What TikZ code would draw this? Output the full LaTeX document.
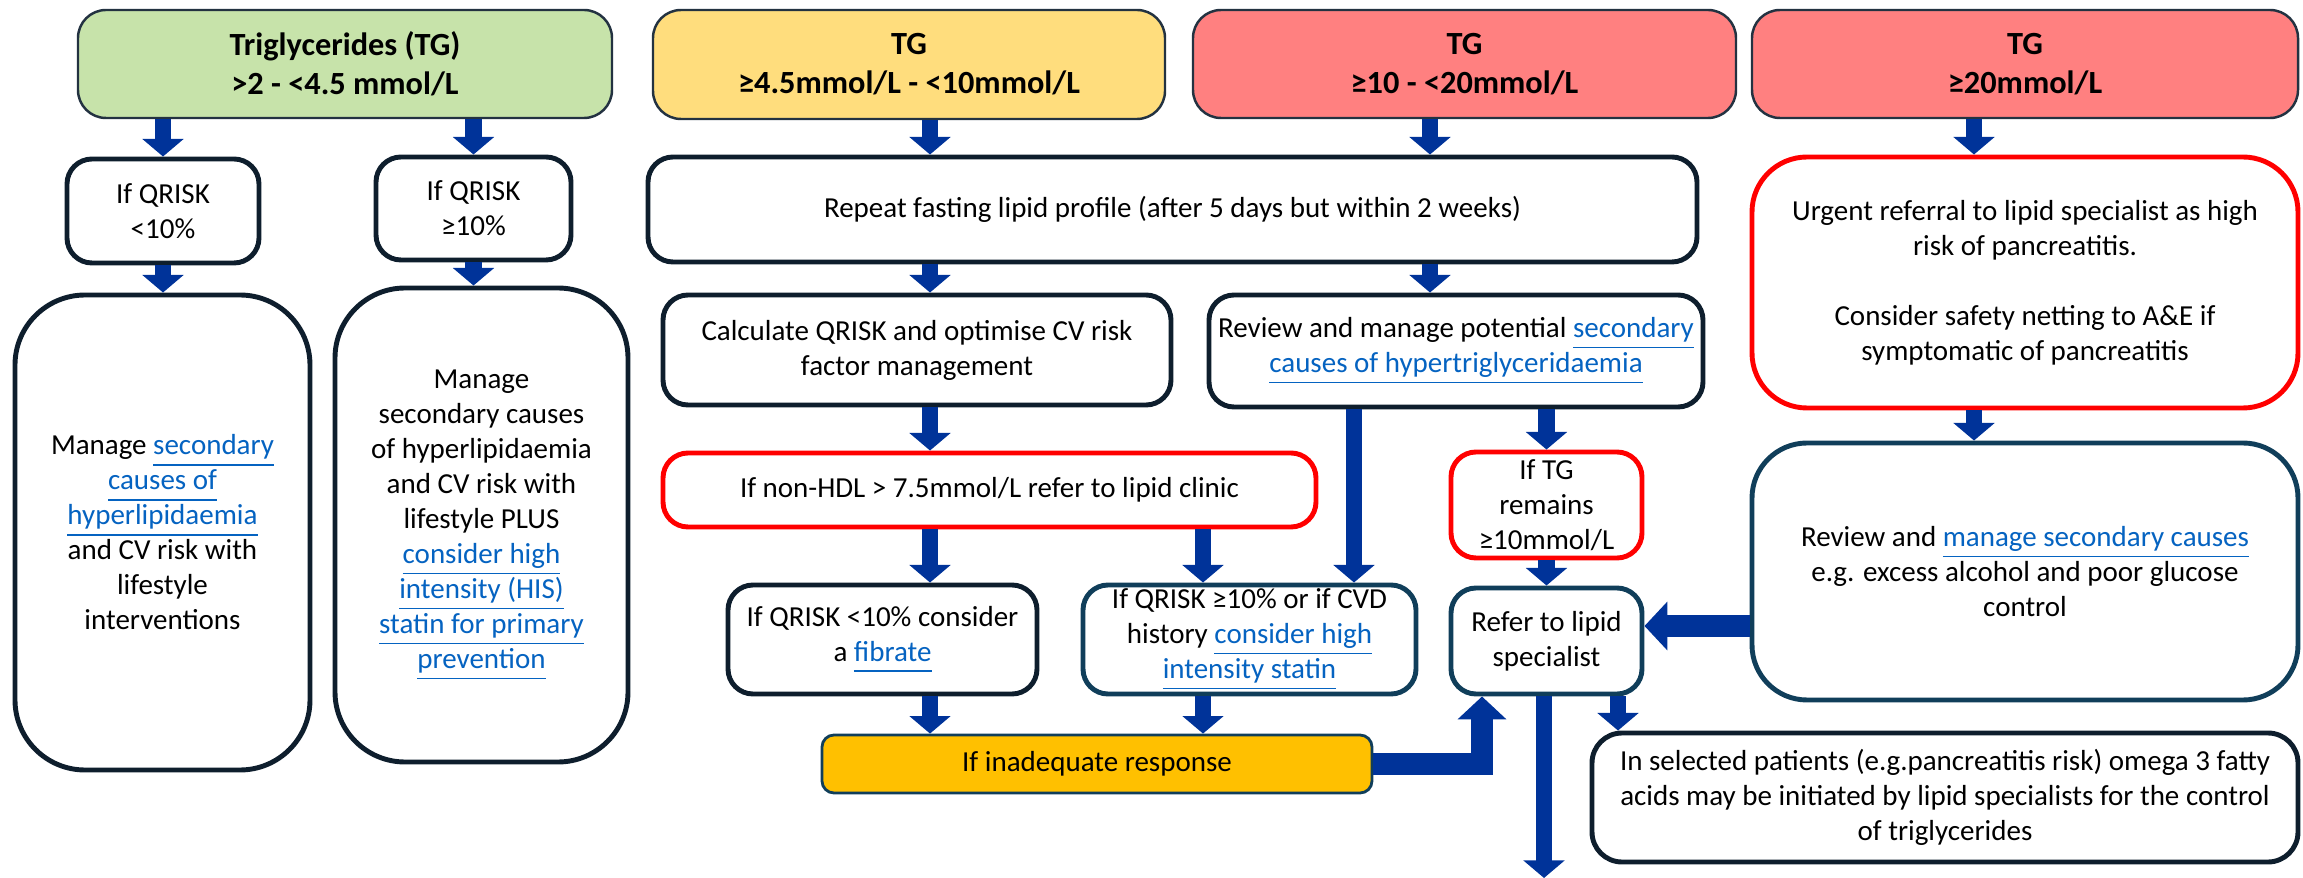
\documentclass[tikz,border=0pt]{standalone}
\usepackage{fontspec}
\setmainfont{Carlito}
\usetikzlibrary{arrows.meta}
\definecolor{navybox}{RGB}{14,30,45}
\definecolor{tealbox}{RGB}{16,62,90}
\definecolor{hdrline}{RGB}{35,50,65}
\definecolor{greenfill}{RGB}{199,227,170}
\definecolor{yellowfill}{RGB}{255,221,125}
\definecolor{redfill}{RGB}{255,128,128}
\definecolor{orangefill}{RGB}{255,192,0}
\definecolor{arrowblue}{RGB}{0,51,153}
\definecolor{linkblue}{RGB}{5,99,193}
\newcommand{\lnk}[1]{\textcolor{linkblue}{\underline{#1\vphantom{gy}}}}
\begin{document}
\begin{tikzpicture}[
  dims/.style 2 args={minimum width=#1cm,minimum height=#2cm,inner sep=0pt},
  hdr/.style={draw=hdrline,line width=0.7pt,rounded corners=0.28cm,align=center,
    font=\fontsize{9.2}{11.1}\selectfont\bfseries},
  box/.style={draw=navybox,line width=1.4pt,fill=white,rounded corners=0.25cm,align=center,
    font=\fontsize{8.25}{9.96}\selectfont},
  redbox/.style={box,draw=red},
  tealbox/.style={box,draw=tealbox},
  arw/.style={draw=arrowblue,line width=4.6pt,-{Triangle[length=5pt,width=11.5pt]}},
  thickarw/.style={draw=arrowblue,line width=6pt,-{Triangle[length=6.5pt,width=13.5pt]}}
]
\useasboundingbox (0,0) rectangle (23.03,-8.78);

\node[hdr,dims={5.34}{1.08},fill=greenfill] (hdrA) at (3.45,-0.64) {Triglycerides (TG)\\>2 - <4.5 mmol/L};
\node[hdr,dims={5.12}{1.09},fill=yellowfill] (hdrB) at (9.09,-0.645) {TG\\≥4.5mmol/L - <10mmol/L};
\node[hdr,dims={5.43}{1.08},fill=redfill] (hdrC) at (14.645,-0.64) {TG\\≥10 - <20mmol/L};
\node[hdr,dims={5.46}{1.08},fill=redfill] (hdrD) at (20.25,-0.64) {TG\\≥20mmol/L};

\node[box,dims={1.92}{1.04}] (qlow) at (1.63,-2.11) {If QRISK\\<10\%};
\node[box,dims={1.95}{1.03}] (qhigh) at (4.735,-2.085) {If QRISK\\≥10\%};
\node[box,dims={2.95}{4.75},rounded corners=0.7cm] (mgmtA) at (1.625,-5.325)
  {Manage \lnk{secondary}\\\lnk{causes of}\\\lnk{hyperlipidaemia}\\and CV risk with\\lifestyle\\interventions};
\node[box,dims={2.93}{4.74},rounded corners=0.7cm] (mgmtB) at (4.815,-5.25)
  {Manage\\secondary causes\\of hyperlipidaemia\\and CV risk with\\lifestyle PLUS\\\lnk{consider high}\\\lnk{intensity (HIS)}\\\lnk{statin for primary}\\\lnk{prevention}};

\node[box,dims={10.49}{1.05}] (repeat) at (11.725,-2.095) {Repeat fasting lipid profile (after 5 days but within 2 weeks)};
\node[box,dims={5.08}{1.10}] (calc) at (9.17,-3.50) {Calculate QRISK and optimise CV risk\\factor management};
\node[box,dims={4.94}{1.12}] (review) at (14.56,-3.51) {Review and manage potential \lnk{secondary}\\\lnk{causes of hypertriglyceridaemia}};
\node[redbox,dims={6.53}{0.74}] (nonhdl) at (9.895,-4.90) {If non-HDL > 7.5mmol/L refer to lipid clinic};
\node[box,dims={3.09}{1.09}] (fibrate) at (8.825,-6.395) {If QRISK <10\% consider\\a \lnk{fibrate}};
\node[tealbox,dims={3.33}{1.09}] (cvd) at (12.495,-6.395) {If QRISK ≥10\% or if CVD\\history \lnk{consider high}\\\lnk{intensity statin}};
\node[box,draw=tealbox,line width=0.8pt,fill=orangefill,rounded corners=0.12cm,dims={5.50}{0.58}] (inadeq) at (10.97,-7.64) {If inadequate response};
\node[redbox,dims={1.91}{1.06}] (tgremain) at (15.465,-5.05) {If TG\\remains\\≥10mmol/L};
\node[tealbox,dims={1.91}{1.06}] (refer) at (15.465,-6.41) {Refer to lipid\\specialist};

\node[redbox,dims={5.46}{2.51},rounded corners=0.55cm] (urgent) at (20.25,-2.825)
  {Urgent referral to lipid specialist as high\\risk of pancreatitis.\\[0.35cm]Consider safety netting to A\&E if\\symptomatic of pancreatitis};
\node[tealbox,dims={5.46}{2.57},rounded corners=0.55cm] (reviewB) at (20.25,-5.715)
  {Review and \lnk{manage secondary causes}\\e.g. excess alcohol and poor glucose\\control};
\node[box,dims={7.06}{1.29},rounded corners=0.3cm] (omega) at (19.45,-7.975)
  {In selected patients (e.g.pancreatitis risk) omega 3 fatty\\acids may be initiated by lipid specialists for the control\\of triglycerides};

\coordinate (colB) at (9.30,0);
\coordinate (colC) at (14.30,0);
\coordinate (colL) at (13.54,0);
\coordinate (colM) at (12.03,0);
\coordinate (colD) at (19.74,0);
\coordinate (colE) at (14.82,0);
\coordinate (colF) at (16.18,0);
\coordinate (rowR) at (0,-6.26);
\coordinate (exit) at (15.44,-8.78);

\foreach \s/\t/\c in {hdrA/qlow/qlow,hdrA/qhigh/qhigh,qlow/mgmtA/qlow,qhigh/mgmtB/qhigh,
  hdrB/repeat/colB,repeat/calc/colB,calc/nonhdl/colB,nonhdl/fibrate/colB,fibrate/inadeq/colB,
  hdrC/repeat/colC,repeat/review/colC,review/cvd/colL,nonhdl/cvd/colM,cvd/inadeq/colM,
  review/tgremain/tgremain,tgremain/refer/tgremain,hdrD/urgent/colD,urgent/reviewB/colD,refer/omega/colF}
  \draw[arw] (\s.south -| \c) -- (\t.north -| \c);
\draw[arw] (refer.south -| exit) -- (exit);
\draw[thickarw] (reviewB.west |- rowR) -- (refer.east |- rowR);
\draw[thickarw] (inadeq.east) -| (refer.south -| colE);
\end{tikzpicture}
\end{document}
